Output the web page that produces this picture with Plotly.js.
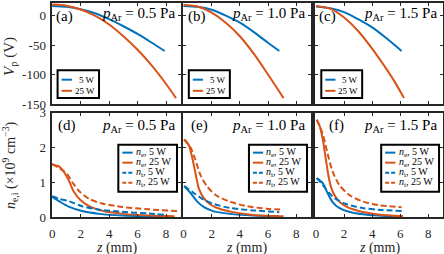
<!DOCTYPE html>
<html>
<head>
<meta charset="utf-8">
<script src="https://cdn.plot.ly/plotly-3.0.1.min.js"></script>
<style>html,body{margin:0;padding:0;background:#fff;}#chart{width:444px;height:254px;}</style>
</head>
<body>
<div id="chart"></div>
<script>
// ---------- data ----------
const pressures = ['0.5', '1.0', '1.5'];
const panelLetters = ['(a)', '(b)', '(c)', '(d)', '(e)', '(f)'];
const xTickVals = [0, 2, 4, 6, 8];
const xTickText = ['0', '2', '4', '6', '8'];
const vTickVals = [0, -50, -100, -150];
const vTickText = ['0', '-50', '-100', '-150'];
const nTickVals = [0, 1, 2, 3];
const nTickText = ['0', '1', '2', '3'];

// Plasma potential V_p (V) vs z (mm)
const zVp05_5W  = [0, 1, 2, 3, 4, 5, 6, 7, 7.9];
const Vp05_5W   = [16.5, 15, 11, 4, -6, -18, -31, -46, -60];
const zVp05_25W = [0, 1, 2, 3, 4, 5, 6, 7, 8, 8.7];
const Vp05_25W  = [19, 17, 10.5, 0, -15, -35, -58, -85, -116, -140];
const zVp10_5W  = [0, 1, 2, 3, 4, 5, 6, 6.8];
const Vp10_5W   = [16.5, 15, 10, 0, -12, -28, -46, -60];
const zVp10_25W = [0, 1, 2, 3, 4, 5, 6, 7.1];
const Vp10_25W  = [18, 15.5, 5, -12, -35, -65, -100, -140];
const zVp15_5W  = [0, 1, 2, 3, 4, 5, 6.1];
const Vp15_5W   = [15.5, 12.5, 6, -6, -20, -38, -60];
const zVp15_25W = [0, 1, 2, 3, 4, 5, 5.6, 6.27];
const Vp15_25W  = [16.5, 12, -3, -26, -56, -90, -112, -140];

// Densities n_e, n_i (x1e9 cm^-3) vs z (mm)
const zNe05_5W  = [0, 0.5, 1.2, 2.1, 3.3, 4.9, 6.8, 7.9];
const ne05_5W   = [0.58, 0.45, 0.29, 0.17, 0.09, 0.04, 0.02, 0.01];
const zNe05_25W = [0, 0.5, 0.8, 1.2, 1.5, 2, 2.7, 3.6, 5, 6.9, 8.6];
const ne05_25W  = [1.5, 1.45, 1.31, 1.02, 0.74, 0.48, 0.29, 0.17, 0.09, 0.04, 0.02];
const zNi05_5W  = [0, 0.5, 1.2, 2.1, 3.3, 4.9, 6.8, 7.9];
const ni05_5W   = [0.6, 0.52, 0.45, 0.31, 0.21, 0.15, 0.1, 0.06];
const zNi05_25W = [0, 0.5, 1, 1.45, 1.9, 2.6, 3.5, 4.9, 6.8, 8.9];
const ni05_25W  = [1.53, 1.4, 1.26, 0.98, 0.74, 0.52, 0.39, 0.29, 0.22, 0.17];

const zNe10_5W  = [0.05, 0.5, 0.96, 1.43, 2.1, 3.3, 4.95, 6.8];
const ne10_5W   = [0.88, 0.69, 0.45, 0.29, 0.17, 0.09, 0.04, 0.02];
const zNe10_25W = [0.05, 0.37, 0.6, 0.85, 1.08, 1.43, 1.9, 2.6, 3.5, 4.95, 7.1];
const ne10_25W  = [2.23, 2.07, 1.74, 1.26, 0.83, 0.55, 0.36, 0.23, 0.14, 0.06, 0.02];
const zNi10_5W  = [0.05, 0.73, 1.43, 2.1, 3.3, 4.95, 6.8];
const ni10_5W   = [0.9, 0.69, 0.5, 0.38, 0.26, 0.19, 0.14];
const zNi10_25W = [0.05, 0.5, 0.85, 1.2, 1.67, 2.37, 3.3, 4.5, 5.9, 7.1];
const ni10_25W  = [2.23, 2.0, 1.64, 1.21, 0.88, 0.61, 0.44, 0.31, 0.24, 0.21];

const zNe15_5W  = [0.05, 0.47, 0.82, 1.18, 1.65, 2.35, 3.5, 4.9, 6.2];
const ne15_5W   = [1.12, 0.98, 0.69, 0.43, 0.26, 0.15, 0.07, 0.03, 0.02];
const zNe15_25W = [0.05, 0.24, 0.47, 0.71, 0.94, 1.18, 1.53, 2.1, 3.05, 4.46, 6.2];
const ne15_25W  = [2.79, 2.64, 2.26, 1.64, 1.07, 0.74, 0.5, 0.31, 0.17, 0.07, 0.02];
const zNi15_5W  = [0.05, 0.47, 0.94, 1.41, 2.1, 3.3, 4.46, 6.1];
const ni15_5W   = [1.12, 0.93, 0.69, 0.52, 0.38, 0.26, 0.21, 0.17];
const zNi15_25W = [0.05, 0.47, 0.82, 1.18, 1.65, 2.35, 3.3, 4.46, 6.1];
const ni15_25W  = [2.8, 2.4, 1.83, 1.31, 0.93, 0.64, 0.45, 0.34, 0.28];

// ---------- styles ----------
const BLUE = '#0072BD', ORANGE = '#D95319', AX = '#262626';
const FONT = "'Liberation Serif', 'DejaVu Serif', serif";
const DASH = '6px,3px';

const traces = [];
function addLine(x, y, idx, color, dash, name) {
  const s = idx === 1 ? '' : String(idx);
  traces.push({
    type: 'scatter', mode: 'lines', x: x, y: y, name: name,
    xaxis: 'x' + s, yaxis: 'y' + s,
    line: {color: color, width: 2, dash: dash || 'solid', shape: 'spline', smoothing: 0.8},
    hoverinfo: 'skip'
  });
}
addLine(zVp05_5W, Vp05_5W, 1, BLUE, null, '5 W');
addLine(zVp05_25W, Vp05_25W, 1, ORANGE, null, '25 W');
addLine(zVp10_5W, Vp10_5W, 2, BLUE, null, '5 W');
addLine(zVp10_25W, Vp10_25W, 2, ORANGE, null, '25 W');
addLine(zVp15_5W, Vp15_5W, 3, BLUE, null, '5 W');
addLine(zVp15_25W, Vp15_25W, 3, ORANGE, null, '25 W');

const densSets = [
  [zNe05_5W, ne05_5W, zNe05_25W, ne05_25W, zNi05_5W, ni05_5W, zNi05_25W, ni05_25W],
  [zNe10_5W, ne10_5W, zNe10_25W, ne10_25W, zNi10_5W, ni10_5W, zNi10_25W, ni10_25W],
  [zNe15_5W, ne15_5W, zNe15_25W, ne15_25W, zNi15_5W, ni15_5W, zNi15_25W, ni15_25W]
];
densSets.forEach((d, i) => {
  const idx = 4 + i;
  addLine(d[0], d[1], idx, BLUE, null, 'n_e, 5 W');
  addLine(d[2], d[3], idx, ORANGE, null, 'n_e, 25 W');
  addLine(d[4], d[5], idx, BLUE, DASH, 'n_i, 5 W');
  addLine(d[6], d[7], idx, ORANGE, DASH, 'n_i, 25 W');
});

// ---------- layout ----------
const W = 444, H = 254;
const colPx = [[51.5, 181], [182.8, 311], [315.3, 443]];
const rowPx = [[2.7, 104], [112.7, 217]];
const xDom = colPx.map(c => [c[0] / W, c[1] / W]);
const yDom = rowPx.map(r => [1 - r[1] / H, 1 - r[0] / H]);

const layout = {
  width: W, height: H,
  margin: {l: 0, r: 0, t: 0, b: 0, pad: 0},
  paper_bgcolor: '#fff', plot_bgcolor: '#fff',
  showlegend: false,
  font: {family: FONT, color: AX, size: 12},
  annotations: [], shapes: []
};

function axisBase() {
  return {
    showline: true, linecolor: AX, linewidth: 2, mirror: 'ticks',
    ticks: 'inside', ticklen: 3, tickwidth: 1, tickcolor: AX,
    showgrid: false, zeroline: false, fixedrange: true,
    tickfont: {family: FONT, size: 13, color: AX}
  };
}

for (let i = 0; i < 6; i++) {
  const s = i === 0 ? '' : String(i + 1);
  const row = i < 3 ? 0 : 1, col = i % 3;
  const xa = axisBase();
  Object.assign(xa, {
    domain: xDom[col], anchor: 'y' + s, range: [-0.05, 9.05],
    tickmode: 'array', tickvals: xTickVals, ticktext: xTickText,
    showticklabels: row === 1, ticklabelstandoff: 3
  });
  const ya = axisBase();
  Object.assign(ya, {
    domain: yDom[row], anchor: 'x' + s,
    range: row === 0 ? [-150, 22] : [0, 3],
    tickmode: 'array',
    tickvals: row === 0 ? vTickVals : nTickVals,
    ticktext: row === 0 ? vTickText : nTickText,
    showticklabels: col === 0, ticklabelstandoff: 1
  });
  layout['xaxis' + s] = xa;
  layout['yaxis' + s] = ya;

  const xr = 'x' + s + ' domain', yr = 'y' + s + ' domain';
  // panel letter
  const letterX = [0.026, 0.035, 0.021, 0.045, 0.06, 0.1][i];
  layout.annotations.push({
    xref: xr, yref: yr, x: letterX, y: row === 0 ? 0.86 : 0.88,
    xanchor: 'left', yanchor: 'middle', showarrow: false, borderpad: 0,
    text: panelLetters[i], font: {family: FONT, size: 15, color: '#000'}
  });
  // pressure label
  layout.annotations.push({
    xref: xr, yref: yr, x: 0.962, y: row === 0 ? 0.89 : 0.875,
    xanchor: 'right', yanchor: 'middle', showarrow: false, borderpad: 0,
    text: '<i>p</i><sub>Ar</sub> = ' + pressures[col] + ' Pa',
    font: {family: FONT, size: 15, color: '#000'}
  });

  // legends (drawn as boxed keys)
  if (row === 0) {
    layout.shapes.push({type: 'rect', xref: xr, yref: yr, x0: 0.047, x1: 0.367, y0: 0.059, y1: 0.333,
      line: {color: '#000', width: 2}, fillcolor: '#fff', layer: 'above'});
    const items = [['5 W', BLUE, 0.24], ['25 W', ORANGE, 0.13]];
    items.forEach(it => {
      layout.shapes.push({type: 'line', xref: xr, yref: yr, x0: 0.078, x1: 0.158, y0: it[2], y1: it[2],
        line: {color: it[1], width: 2}, layer: 'above'});
      layout.annotations.push({xref: xr, yref: yr, x: 0.345, y: it[2], xanchor: 'right', yanchor: 'middle',
        showarrow: false, borderpad: 0, text: it[0], font: {family: FONT, size: 9, color: '#000'}});
    });
  } else {
    layout.shapes.push({type: 'rect', xref: xr, yref: yr, x0: 0.516, x1: 0.969, y0: 0.243, y1: 0.692,
      line: {color: '#000', width: 2}, fillcolor: '#fff', layer: 'above'});
    const items = [
      ['<i>n</i><sub>e</sub>, 5 W', BLUE, 'solid', 0.617],
      ['<i>n</i><sub>e</sub>, 25 W', ORANGE, 'solid', 0.521],
      ['<i>n</i><sub>i</sub>, 5 W', BLUE, '4px,2px', 0.425],
      ['<i>n</i><sub>i</sub>, 25 W', ORANGE, '4px,2px', 0.329]
    ];
    items.forEach(it => {
      layout.shapes.push({type: 'line', xref: xr, yref: yr, x0: 0.547, x1: 0.627, y0: it[3], y1: it[3],
        line: {color: it[1], width: 2, dash: it[2]}, layer: 'above'});
      layout.annotations.push({xref: xr, yref: yr, x: 0.645, y: it[3], xanchor: 'left', yanchor: 'middle',
        showarrow: false, borderpad: 0, text: it[0], font: {family: FONT, size: 10, color: '#000'}});
    });
  }
}

// axis titles
layout.annotations.push({
  xref: 'paper', yref: 'paper', x: 10 / W, y: 1 - 57 / H, textangle: -90,
  xanchor: 'center', yanchor: 'middle', showarrow: false,
  text: '<i>V</i><sub>p</sub> (V)', font: {family: FONT, size: 15, color: AX}
});
layout.annotations.push({
  xref: 'paper', yref: 'paper', x: 10 / W, y: 1 - 165 / H, textangle: -90,
  xanchor: 'center', yanchor: 'middle', showarrow: false,
  text: '<i>n</i><sub>e,i</sub> (×10<sup>9</sup> cm<sup>−3</sup>)', font: {family: FONT, size: 14, color: AX}
});
for (let c = 0; c < 3; c++) {
  layout.annotations.push({
    xref: 'paper', yref: 'paper', x: (xDom[c][0] + xDom[c][1]) / 2, y: 1 - 247.5 / H,
    xanchor: 'center', yanchor: 'middle', showarrow: false, borderpad: 0,
    text: '<i>z</i> (mm)', font: {family: FONT, size: 14, color: AX}
  });
}

Plotly.newPlot('chart', traces, layout, {staticPlot: true, displayModeBar: false});
</script>
</body>
</html>
